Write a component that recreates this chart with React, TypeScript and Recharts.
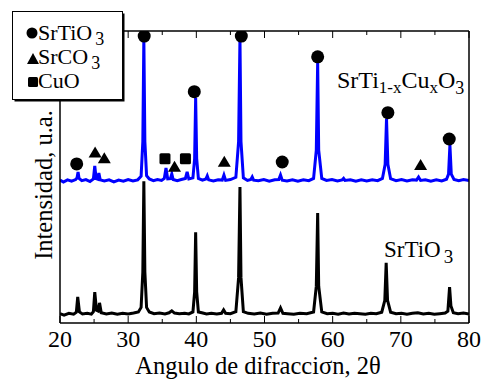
import { ComposedChart, Line, Scatter, XAxis, YAxis } from 'recharts';

// patrón de referencia SrTiO3 (negro)
const blackAngles = [20, 20.6, 21.3, 22.0, 22.4, 22.6, 22.85, 23.3, 24.0, 24.6, 24.9, 25.1, 25.35, 25.6, 25.8, 26.05, 26.8, 27.6, 28.4, 29.2, 30.0, 30.8, 31.5, 31.9, 32.15, 32.3, 32.45, 32.7, 33.1, 33.8, 34.6, 35.4, 36.0, 36.4, 36.8, 37.5, 38.3, 38.9, 39.5, 39.75, 39.9, 40.05, 40.3, 40.8, 41.5, 42.2, 43.0, 43.7, 44.0, 44.3, 45.0, 45.8, 46.2, 46.4, 46.55, 46.9, 47.6, 48.5, 49.4, 50.3, 51.2, 52.0, 52.35, 52.7, 53.4, 54.3, 55.2, 56.2, 57.2, 57.6, 57.8, 57.95, 58.4, 59.2, 60.0, 60.8, 61.6, 62.4, 63.2, 64.0, 64.8, 65.6, 66.4, 67.2, 67.65, 67.85, 68.05, 68.5, 69.3, 70.1, 70.9, 71.7, 72.5, 73.3, 74.1, 74.9, 75.7, 76.5, 76.9, 77.15, 77.35, 77.7, 78.4, 79.2, 80];
const blackCounts = [0.3, -0.2, 0.4, 0.1, 0.8, 6.2, 0.9, 0.2, 0.4, 0.1, 1.0, 7.9, 1.5, 1.2, 4.1, 0.6, 0.2, 0.5, 0.1, 0.4, 0.2, 0.5, 0.9, 2.5, 15, 47, 15, 2.5, 0.9, 0.3, 0.5, 0.2, 0.6, 1.3, 0.5, 0.3, 0.4, 0.2, 0.9, 8, 29, 8, 0.9, 0.6, 0.2, 0.4, 0.2, 0.4, 1.6, 0.4, 0.3, 1.0, 13, 45, 13, 1.0, 0.4, 0.2, 0.5, 0.1, 0.4, 0.5, 2.3, 0.4, 0.3, 0.1, 0.4, 0.3, 0.9, 10, 35.8, 10, 0.9, 0.3, 0.4, 0.1, 0.5, 0.2, 0.4, 0.3, 0.1, 0.4, 0.3, 0.8, 5, 18.2, 5, 0.8, 0.3, 0.4, 0.1, 0.4, 0.6, 0.2, 0.4, 0.1, 0.3, 0.5, 1.2, 9.7, 3, 0.6, 0.3, 0.5, 0.2];

// SrTi1-xCuxO3 (azul)
const blueAngles = [20, 20.5, 21.1, 21.7, 22.3, 22.5, 22.65, 22.8, 23.2, 23.8, 24.4, 24.9, 25.1, 25.3, 25.55, 25.7, 25.9, 26.5, 27.2, 27.9, 28.6, 29.3, 30.0, 30.7, 31.4, 31.9, 32.15, 32.3, 32.45, 32.7, 33.1, 33.7, 34.3, 34.9, 35.3, 35.55, 35.8, 36.2, 36.4, 36.6, 37.2, 37.8, 38.4, 38.65, 38.9, 39.5, 39.75, 39.9, 40.05, 40.3, 40.9, 41.4, 41.6, 41.8, 42.5, 43.2, 43.8, 44.05, 44.3, 45.0, 45.8, 46.2, 46.4, 46.55, 46.9, 47.5, 48.0, 48.2, 48.4, 49.1, 49.9, 50.7, 51.5, 52.1, 52.35, 52.6, 53.3, 54.1, 54.9, 55.7, 56.5, 57.2, 57.6, 57.8, 57.95, 58.4, 59.1, 59.9, 60.7, 61.4, 61.6, 61.8, 62.6, 63.4, 64.2, 65.0, 65.8, 66.6, 67.3, 67.7, 67.9, 68.1, 68.5, 69.3, 70.1, 70.9, 71.7, 72.3, 72.6, 72.9, 73.6, 74.4, 75.2, 76.0, 76.7, 77.0, 77.2, 77.4, 77.8, 78.5, 79.2, 80];
const blueCounts = [0.4, -0.3, 0.5, 0.0, 0.6, 1.2, 3.3, 1.0, 0.2, 0.6, -0.1, 0.8, 5.4, 0.9, 0.7, 2.9, 0.5, 0.1, 0.5, -0.2, 0.4, 0.0, 0.6, 0.1, 0.5, 1.8, 14, 50.5, 14, 2.0, 0.8, 0.2, 0.6, 0.3, 1.0, 4.7, 0.8, 0.9, 2.6, 0.6, 0.2, 0.6, 1.0, 3.3, 0.8, 1.2, 8, 29.4, 8, 1.0, 0.4, 0.8, 1.9, 0.5, 0.1, 0.5, 0.4, 2.2, 0.3, 0.6, 1.4, 14, 50.5, 14, 1.2, 0.3, 0.6, 1.5, 0.4, 0.2, 0.6, 0.0, 0.5, 0.6, 2.2, 0.4, 0.1, 0.5, 0.0, 0.5, 0.2, 1.0, 11, 42, 11, 1.0, 0.3, 0.6, 0.1, 0.5, 1.0, 0.3, 0.5, 0.0, 0.5, 0.1, 0.5, 0.2, 1.0, 6, 22, 6, 0.9, 0.2, 0.6, 0.1, 0.5, 0.4, 1.5, 0.3, 0.5, 0.0, 0.5, 0.1, 0.7, 2.5, 12.8, 2.5, 0.6, 0.2, 0.6, 0.3];
const blueOffset = 47;

// marcadores de fases
const srtio3Marks = [[22.45, 53.1], [32.35, 98.2], [39.7, 78.6], [46.6, 98.2], [52.6, 53.8], [57.8, 90.9], [68.1, 71.2], [77.1, 61.9]];
const srco3Marks = [[25.15, 57.1], [26.5, 55.1], [36.8, 52.1], [44.1, 53.9], [72.9, 52.7]];
const cuoMarks = [[35.4, 54.9], [38.4, 54.9]];

const xTicks = [20, 25, 30, 35, 40, 45, 50, 55, 60, 65, 70, 75, 80];

const blackData = blackAngles.map((a, i) => ({ x: a, y: blackCounts[i] }));
const blueData = blueAngles.map((a, i) => ({ x: a, y: blueCounts[i] + blueOffset }));
const toPts = (arr: number[][]) => arr.map(([x, y]) => ({ x, y }));

const FONT = "'Liberation Serif', 'DejaVu Serif', serif";

const BottomTick = (props: any) => {
  const { x, y, payload } = props;
  const major = payload.value % 10 === 0;
  return (
    <g>
      <line x1={x} x2={x} y1={y} y2={y - (major ? 7 : 4)} stroke="#000" strokeWidth={1} />
      {major && (
        <text x={x} y={y + 24} textAnchor="middle" fontFamily={FONT} fontSize={24} fill="#000">
          {payload.value}
        </text>
      )}
    </g>
  );
};

const TopTick = (props: any) => {
  const { x, y, payload } = props;
  const major = payload.value % 10 === 0;
  return <line x1={x} x2={x} y1={y} y2={y + (major ? 7 : 4)} stroke="#000" strokeWidth={1} />;
};

const circleShape = (p: any) => <circle cx={p.cx} cy={p.cy} r={6.5} fill="#000" />;
const triShape = (p: any) => (
  <polygon points={`${p.cx},${p.cy - 6} ${p.cx - 6.5},${p.cy + 5} ${p.cx + 6.5},${p.cy + 5}`} fill="#000" />
);
const squareShape = (p: any) => <rect x={p.cx - 5.5} y={p.cy - 5.5} width={11} height={11} rx={1.5} fill="#000" />;

const T = (props: any) => <text fontFamily={FONT} fill="#000" {...props} />;

const Overlay = () => (
  <svg width={484} height={380} style={{ position: 'absolute', left: 0, top: 0, pointerEvents: 'none' }}>
    <T x={258} y={374} fontSize={24.5} textAnchor="middle">Angulo de difracciσn, 2θ</T>
    <T x={0} y={0} fontSize={24.5} textAnchor="middle" transform="translate(52,185) rotate(-90)">
      Intensidad, u.a.
    </T>
    <T x={337} y={88} fontSize={24}>
      SrTi<tspan fontSize={17} dy={5}>1-x</tspan>
      <tspan dy={-5}>Cu</tspan>
      <tspan fontSize={17} dy={5}>x</tspan>
      <tspan dy={-5}>O</tspan>
      <tspan fontSize={18} dy={6}>3</tspan>
    </T>
    <T x={384} y={257} fontSize={23}>
      SrTiO<tspan fontSize={19} dx={3} dy={6}>3</tspan>
    </T>
    <rect x={14.5} y={13.5} width={110} height={88} fill="#000" />
    <rect x={12.5} y={11.5} width={110} height={88} fill="#fff" stroke="#000" strokeWidth={1} />
    <circle cx={32} cy={33} r={5.5} fill="#000" />
    <T x={38} y={40} fontSize={22}>
      SrTiO<tspan fontSize={18} dx={3} dy={5}>3</tspan>
    </T>
    <polygon points="33,53 27,64 39,64" fill="#000" />
    <T x={38} y={64} fontSize={22}>
      SrCO<tspan fontSize={18} dx={3} dy={5}>3</tspan>
    </T>
    <rect x={28} y={77} width={10} height={10} rx={1.5} fill="#000" />
    <T x={38} y={88} fontSize={22}>CuO</T>
  </svg>
);

export default function App() {
  return (
    <div style={{ position: 'absolute', left: 0, top: 0, width: 484, height: 380, background: '#fff' }}>
      <ComposedChart width={484} height={380} margin={{ top: 30, right: 14, bottom: 56, left: 59 }}>
        <XAxis
          xAxisId="b"
          dataKey="x"
          type="number"
          domain={[20, 80]}
          ticks={xTicks}
          interval={0}
          height={1}
          tickSize={0}
          tickMargin={0}
          tick={<BottomTick />}
          tickLine={false}
          axisLine={{ stroke: '#000', strokeWidth: 1.5 }}
          allowDataOverflow
        />
        <XAxis
          xAxisId="t"
          orientation="top"
          dataKey="x"
          type="number"
          domain={[20, 80]}
          ticks={xTicks}
          interval={0}
          height={1}
          tickSize={0}
          tickMargin={0}
          tick={<TopTick />}
          tickLine={false}
          axisLine={{ stroke: '#000', strokeWidth: 1.5 }}
          allowDataOverflow
        />
        <YAxis yAxisId="l" type="number" domain={[-3, 100]} width={1} tick={false} tickLine={false} axisLine={{ stroke: '#000', strokeWidth: 1.5 }} allowDataOverflow />
        <YAxis yAxisId="r" orientation="right" type="number" domain={[-3, 100]} width={1} tick={false} tickLine={false} axisLine={{ stroke: '#000', strokeWidth: 1.5 }} allowDataOverflow />
        <Line xAxisId="b" yAxisId="l" data={blackData} dataKey="y" type="linear" stroke="#000" strokeWidth={3} dot={false} isAnimationActive={false} />
        <Line xAxisId="b" yAxisId="l" data={blueData} dataKey="y" type="linear" stroke="#0000ff" strokeWidth={3} dot={false} isAnimationActive={false} />
        <Scatter xAxisId="b" yAxisId="l" data={toPts(srtio3Marks)} dataKey="y" shape={circleShape} isAnimationActive={false} />
        <Scatter xAxisId="b" yAxisId="l" data={toPts(srco3Marks)} dataKey="y" shape={triShape} isAnimationActive={false} />
        <Scatter xAxisId="b" yAxisId="l" data={toPts(cuoMarks)} dataKey="y" shape={squareShape} isAnimationActive={false} />
      </ComposedChart>
      <Overlay />
    </div>
  );
}
